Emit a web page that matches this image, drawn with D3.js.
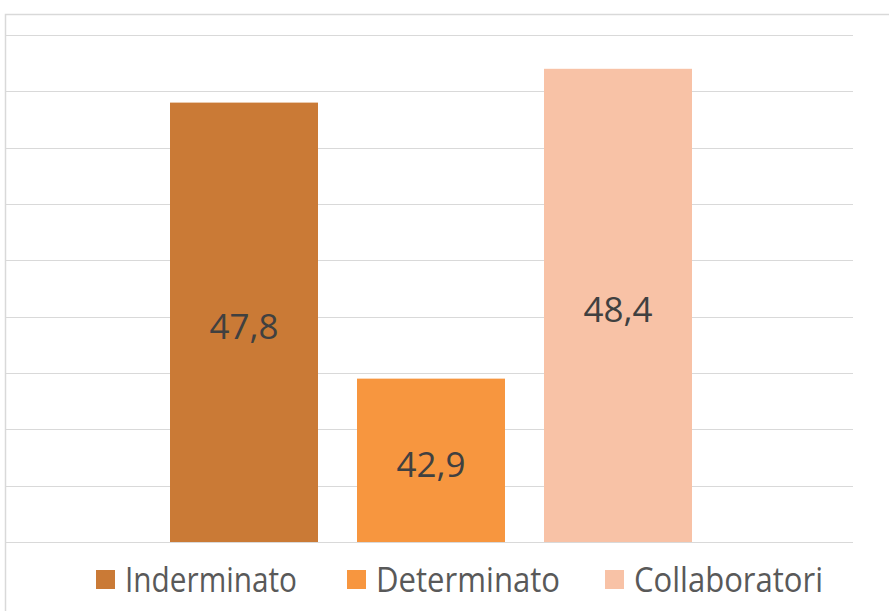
<!DOCTYPE html>
<html>
<head>
<meta charset="utf-8">
<script src="https://cdn.jsdelivr.net/npm/d3@7"></script>
<style>
  body { margin: 0; background: #fff; }
</style>
</head>
<body>
<div id="chart"></div>
<script>
// data
const categories = ["Inderminato", "Determinato", "Collaboratori"];
const values = [47.8, 42.9, 48.4];
const colors = ["#CA7A36", "#F7963F", "#F8C2A6"];
const gridTicks = [40, 41, 42, 43, 44, 45, 46, 47, 48, 49];

const W = 889, H = 611;
const svg = d3.select("#chart").append("svg")
    .attr("width", W)
    .attr("height", H);

svg.append("rect").attr("width", W).attr("height", H).attr("fill", "#fff");

// chart frame (cropped at right and bottom)
svg.append("path")
    .attr("d", `M5.5,${H} L5.5,14.5 L${W},14.5`)
    .attr("fill", "none")
    .attr("stroke", "#d9d9d9")
    .attr("stroke-width", 1.5);

const x = d3.scaleBand()
    .domain(categories)
    .range([150.5, 711.5])
    .paddingInner(0.2086)
    .paddingOuter(0.1043);

const y = d3.scaleLinear().domain([40, 49]).range([542, 35]);

// gridlines
svg.append("g")
    .selectAll("line")
    .data(gridTicks)
    .join("line")
    .attr("x1", 6)
    .attr("x2", 853)
    .attr("y1", d => Math.round(y(d)) + 0.5)
    .attr("y2", d => Math.round(y(d)) + 0.5)
    .attr("stroke", "#d9d9d9")
    .attr("stroke-width", 1.2);

// bars
svg.append("g")
    .selectAll("rect")
    .data(values)
    .join("rect")
    .attr("x", (d, i) => x(categories[i]))
    .attr("y", d => y(d))
    .attr("width", x.bandwidth())
    .attr("height", d => y(40) - y(d))
    .attr("fill", (d, i) => colors[i]);

// value labels
const fmt = d => d.toFixed(1).replace(".", ",");
svg.append("g")
    .selectAll("text")
    .data(values)
    .join("text")
    .attr("x", (d, i) => x(categories[i]) + x.bandwidth() / 2)
    .attr("y", d => (y(d) + y(40)) / 2 + 4)
    .attr("dy", "0.36em")
    .attr("text-anchor", "middle")
    .attr("font-family", "'Open Sans', sans-serif")
    .attr("font-size", 35)
    .attr("fill", "#404040")
    .text(fmt);

// legend
const legendX = [96, 347, 605];
const legendW = [172, 184, 189];
const legend = svg.append("g");
categories.forEach((c, i) => {
    const g = legend.append("g").attr("transform", `translate(${legendX[i]},580)`);
    g.append("rect")
        .attr("x", 0).attr("y", -10)
        .attr("width", 19).attr("height", 19)
        .attr("fill", colors[i]);
    g.append("text")
        .attr("x", 29)
        .attr("y", 0)
        .attr("dy", "0.36em")
        .attr("font-family", "'Open Sans', sans-serif")
        .attr("font-size", 34)
        .attr("textLength", legendW[i])
        .attr("lengthAdjust", "spacingAndGlyphs")
        .attr("fill", "#595959")
        .text(c);
});
</script>
</body>
</html>
